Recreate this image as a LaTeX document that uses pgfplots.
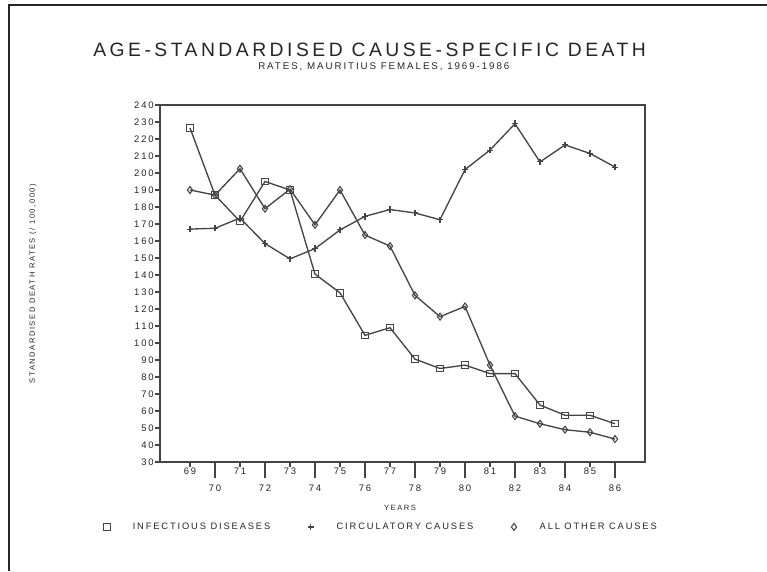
\documentclass[border=0pt]{standalone}
\usepackage{fontspec}
\setmainfont{Liberation Sans}[LetterSpace=20]
\newfontfamily\titlefont{Liberation Sans}[LetterSpace=18]
\usepackage{pgfplots}
\usepackage{pgfplotstable}
\pgfplotsset{compat=1.18}
\definecolor{ink}{HTML}{262626}
\definecolor{pen}{HTML}{454545}

\pgfplotstableread{
yr inf circ other
69 226.5 167 190
70 187 167.5 187
71 171.5 173.5 202.5
72 195 158.5 179
73 190 149.5 190.5
74 140.5 155.5 169.5
75 129.5 166.5 190
76 104.5 174.5 163.5
77 109 178.5 157
78 90.5 176.5 128
79 85 172.5 115.5
80 87 202 121.5
81 82 213.5 87
82 82 229 57
83 63.5 206.5 52.5
84 57.5 216.5 49
85 57.5 211.5 47.5
86 52.5 203.5 43.5
}\datatable

\begin{document}
\begin{tikzpicture}[x=0.75pt,y=0.75pt]
\path[use as bounding box, fill=white] (0,0) rectangle (767,571);
\draw[line width=1.6pt, ink] (9,0) -- (9,566) -- (767,566);
\node[anchor=base west, inner sep=0pt, font=\titlefont\fontsize{14.5}{17}\selectfont, text=ink] at (93,514) {AGE-STANDARDISED CAUSE-SPECIFIC DEATH};
\node[anchor=base west, inner sep=0pt, font=\fontsize{7.3}{9}\selectfont, text=ink] at (258,501) {RATES, MAURITIUS FEMALES, 1969-1986};
\begin{axis}[
  at={(120pt,81.75pt)}, anchor=south west,
  scale only axis, width=363.75pt, height=267.75pt,
  xmin=67.8, xmax=87.2, ymin=30, ymax=240,
  axis line style={pen, line width=0.9pt},
  tick style={pen, line width=0.8pt},
  tick align=outside, tick pos=left,
  major tick length=3.5pt,
  ytick={30,40,...,240},
  xtick={69,71,...,85},
  extra x ticks={70,72,...,86},
  extra x tick style={/pgfplots/major tick length=12pt, xticklabel style={yshift=-4pt}},
  /pgf/number format/assume math mode=true,
  ticklabel style={font=\fontsize{7.1}{8}\selectfont, text=ink},
  xticklabel style={inner sep=1pt},
  yticklabel style={inner sep=1pt},
  xlabel={YEARS},
  ylabel={STANDARDISED DEATH RATES (/ 100,000)},
  xlabel style={at={(axis description cs:0.495,-0.129)}, anchor=center, font=\fontsize{5.7}{7}\selectfont, text=ink},
  ylabel style={at={(axis description cs:-0.262,0.5)}, anchor=center, font=\fontsize{5.7}{7}\selectfont, text=ink},
  legend columns=3,
  legend cell align=left,
  legend style={at={(axis description cs:-0.122,-0.182)}, anchor=west, draw=none, fill=none, inner sep=0pt,
    font=\fontsize{7}{8}\selectfont, text=ink, nodes={inner sep=0pt},
    /tikz/every odd column/.append style={column sep=14.75pt},
    /tikz/every even column/.append style={column sep=26pt}},
  legend image code/.code={\path (-4pt,-2pt) (4pt,2pt); \draw[#1, only marks] plot coordinates {(0pt,0pt)};},
]
\addplot[pen, line width=1pt, mark=square, mark size=2.4pt, mark options={solid, line width=0.8pt}] table[x=yr,y=inf]{\datatable};
\addlegendentry{INFECTIOUS DISEASES}
\addplot[pen, line width=1pt, mark=+, mark size=2.4pt, mark options={solid, line width=0.8pt}] table[x=yr,y=circ]{\datatable};
\addlegendentry{CIRCULATORY CAUSES}
\addplot[pen, line width=1pt, mark=diamond, mark size=2.6pt, mark options={solid, line width=0.8pt}] table[x=yr,y=other]{\datatable};
\addlegendentry{ALL OTHER CAUSES}
\end{axis}
\end{tikzpicture}
\end{document}
